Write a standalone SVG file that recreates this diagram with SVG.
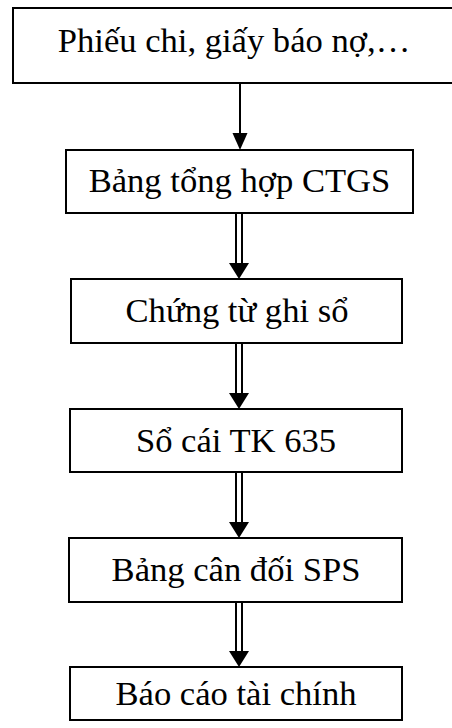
<svg xmlns="http://www.w3.org/2000/svg" xmlns:xlink="http://www.w3.org/1999/xlink" width="452" height="728" viewBox="0 0 452 728">
<style>
.box{fill:#fff;stroke:#000;stroke-width:2}
.lbl{font-family:"Liberation Serif","Times New Roman",serif;font-size:34.6px;fill:#000;text-anchor:middle}
.ln{stroke:#000;stroke-width:2;fill:none}
</style>
<defs>
<path id="head1" d="M-7.5,-17 L7.5,-17 L0,0 Z" fill="#000"/>
<path id="head2" d="M-10,-16 L10,-16 L0,0 Z" fill="#000"/>
</defs>
<rect width="452" height="728" fill="#fff"/>
<g id="connectors">
<line class="ln" x1="240" y1="83" x2="240" y2="136"/>
<use xlink:href="#head1" x="240" y="150"/>
<g id="c2"><line class="ln" x1="236" y1="213" x2="236" y2="266"/><line class="ln" x1="242" y1="213" x2="242" y2="266"/><use xlink:href="#head2" x="239" y="279"/></g>
<g id="c3"><line class="ln" x1="236" y1="343" x2="236" y2="396"/><line class="ln" x1="242" y1="343" x2="242" y2="396"/><use xlink:href="#head2" x="239" y="409"/></g>
<g id="c4"><line class="ln" x1="236" y1="472" x2="236" y2="525"/><line class="ln" x1="242" y1="472" x2="242" y2="525"/><use xlink:href="#head2" x="239" y="538"/></g>
<g id="c5"><line class="ln" x1="236" y1="602" x2="236" y2="654"/><line class="ln" x1="242" y1="602" x2="242" y2="654"/><use xlink:href="#head2" x="239" y="667"/></g>
</g>
<g id="n1"><rect class="box" x="13" y="8" width="450" height="75"/><text class="lbl" x="234" y="52">Phiếu chi, giấy báo nợ,…</text></g>
<g id="n2"><rect class="box" x="66" y="150" width="347" height="63"/><text class="lbl" x="239.5" y="192">Bảng tổng hợp CTGS</text></g>
<g id="n3"><rect class="box" x="71" y="279" width="331" height="64"/><text class="lbl" x="237" y="322">Chứng từ ghi sổ</text></g>
<g id="n4"><rect class="box" x="70" y="409" width="332" height="63"/><text class="lbl" x="236" y="452">Sổ cái TK 635</text></g>
<g id="n5"><rect class="box" x="69" y="538" width="333" height="64"/><text class="lbl" x="236" y="581">Bảng cân đối SPS</text></g>
<g id="n6"><rect class="box" x="70" y="667" width="332" height="53"/><text class="lbl" x="236" y="705">Báo cáo tài chính</text></g>
</svg>
